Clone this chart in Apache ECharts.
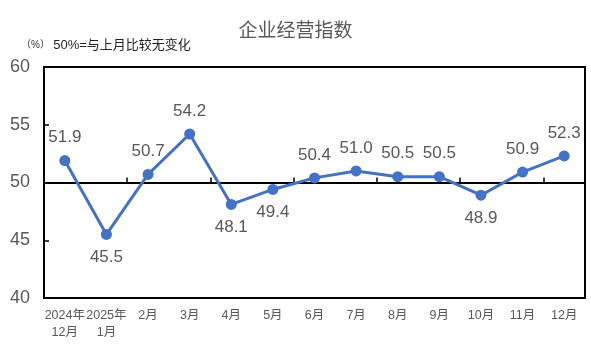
<!DOCTYPE html>
<html><head><meta charset="utf-8">
<script src="https://cdn.jsdelivr.net/npm/echarts@6/dist/echarts.min.js"></script>
<style>html,body{margin:0;padding:0;background:#fff}#c{width:591px;height:354px}</style>
</head><body><div id="c"></div>
<script>
const categories = ['2024年\n12月','2025年\n1月','2月','3月','4月','5月','6月','7月','8月','9月','10月','11月','12月'];
const values = [51.9,45.5,50.7,54.2,48.1,49.4,50.4,51.0,50.5,50.5,48.9,50.9,52.3];
const labelPos = ['top','bottom','top','top','bottom','bottom','top','top','top','top','bottom','top','top'];
const yTicks = {min:40, max:60, interval:5};
const FONT = 'Liberation Sans, "Noto Sans CJK SC", sans-serif';
const chart = echarts.init(document.getElementById('c'));
chart.setOption({
  animation:false,
  backgroundColor:'#fff',
  title:{text:'企业经营指数',left:'center',top:17,textStyle:{fontSize:19,fontWeight:'normal',color:'#595959',fontFamily:FONT}},
  graphic:[{type:'text',left:21,top:39,style:{text:'{a|（%）} {b|50%=与上月比较无变化}',rich:{a:{fontSize:10,fill:'#333',fontFamily:FONT},b:{fontSize:13,fill:'#222',fontFamily:FONT}}}}],
  grid:{left:44,right:6,top:67,bottom:56,show:true,borderColor:'#000',borderWidth:2,backgroundColor:'transparent'},
  xAxis:[{type:'category',data:categories,boundaryGap:true,position:'bottom',
    axisLine:{show:false},axisTick:{show:false},
    axisLabel:{color:'#595959',fontSize:12.5,margin:9,lineHeight:17,fontFamily:FONT,interval:0}},
    {type:'category',data:categories,boundaryGap:true,position:'bottom',offset:-115.5,
    axisLine:{show:true,lineStyle:{color:'#000',width:2}},axisTick:{show:true,inside:true,length:5,lineStyle:{color:'#000',width:1.5}},
    axisLabel:{show:false}}],
  yAxis:{type:'value',min:yTicks.min,max:yTicks.max,interval:yTicks.interval,
    axisLine:{show:true,lineStyle:{color:'#000',width:2}},
    axisTick:{show:true,inside:true,length:5,lineStyle:{color:'#000',width:1.5}},
    splitLine:{show:false},
    axisLabel:{color:'#595959',fontSize:18,margin:14,fontFamily:FONT}},
  series:[{type:'line',data:values.map((v,i)=>({value:v,label:{position:labelPos[i]}})),
    symbol:'circle',symbolSize:11,
    lineStyle:{color:'#4472C4',width:3},itemStyle:{color:'#4472C4'},
    label:{show:true,distance:9,fontSize:17,color:'#595959',fontFamily:FONT,formatter:p=>p.value.toFixed(1)}}]
});
</script></body></html>
